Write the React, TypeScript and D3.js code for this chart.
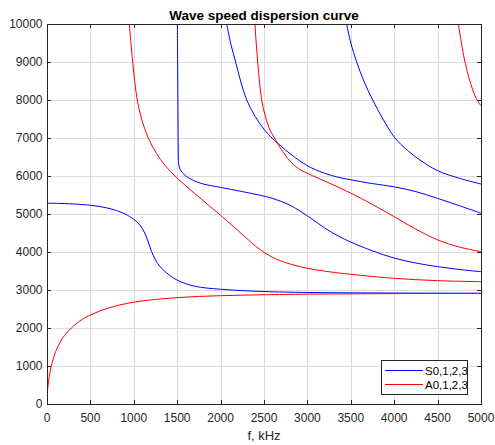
import React from "react";
import * as d3 from "d3";

const W = 495;
const H = 445;

const xTicks = [0, 500, 1000, 1500, 2000, 2500, 3000, 3500, 4000, 4500, 5000];
const yTicks = [0, 1000, 2000, 3000, 4000, 5000, 6000, 7000, 8000, 9000, 10000];

const title = "Wave speed dispersion curve";
const xLabel = "f, kHz";
const legendLabels = ["S0,1,2,3", "A0,1,2,3"];

// [frequency kHz, wave speed]
const S0: [number, number][] = [
  [0, 5285], [200, 5275], [400, 5250], [500, 5230], [600, 5200], [700, 5155],
  [800, 5090], [900, 5000], [1000, 4860], [1050, 4760], [1100, 4610],
  [1150, 4370], [1200, 4040], [1250, 3790], [1300, 3620], [1400, 3410],
  [1500, 3260], [1700, 3100], [2000, 3020], [2500, 2960], [3000, 2935],
  [4000, 2920], [5000, 2915],
];
const S1: [number, number][] = [
  [1502, 10000], [1505, 9000], [1508, 8000], [1511, 7000], [1513, 6600],
  [1516, 6350], [1522, 6250], [1535, 6170], [1560, 6090], [1600, 6000],
  [1700, 5870], [1800, 5790], [2000, 5700], [2250, 5590], [2500, 5470],
  [2600, 5410], [2700, 5330], [2800, 5230], [2900, 5100], [3000, 4950],
  [3100, 4790], [3200, 4630], [3300, 4490], [3400, 4370], [3500, 4260],
  [3750, 4030], [4000, 3840], [4250, 3710], [4500, 3615], [4750, 3540],
  [5000, 3482],
];
const S2: [number, number][] = [
  [2070, 10000], [2120, 9450], [2174, 9000], [2230, 8500], [2301, 8000],
  [2400, 7560], [2500, 7230], [2600, 6980], [2650, 6880], [2750, 6680],
  [2850, 6500], [2950, 6340], [3050, 6210], [3200, 6070], [3350, 5970],
  [3500, 5900], [3750, 5800], [4000, 5715], [4250, 5590], [4500, 5410],
  [4750, 5220], [5000, 5020],
];
const S3: [number, number][] = [
  [3452, 10000], [3500, 9500], [3568, 9000], [3650, 8500], [3752, 8000],
  [3870, 7500], [4009, 7000], [4150, 6680], [4297, 6420], [4500, 6140],
  [4750, 5940], [5000, 5789],
];
const A0: [number, number][] = [
  [0, 0], [5, 310], [10, 440], [25, 700], [50, 1000], [100, 1380],
  [150, 1620], [200, 1800], [280, 2000], [400, 2220], [500, 2340],
  [700, 2520], [1000, 2680], [1500, 2800], [2000, 2850], [2500, 2875],
  [3000, 2890], [4000, 2905], [5000, 2910],
];
const A1: [number, number][] = [
  [948, 10000], [967, 9500], [987, 9000], [1010, 8500], [1040, 8000],
  [1090, 7500], [1166, 7000], [1260, 6600], [1360, 6280], [1473, 6000],
  [1600, 5740], [1800, 5350], [2000, 4965], [2100, 4765], [2200, 4565],
  [2300, 4360], [2400, 4160], [2500, 3990], [2600, 3860], [2750, 3720],
  [3000, 3570], [3250, 3480], [3500, 3413], [4000, 3307], [4500, 3246],
  [5000, 3219],
];
const A2: [number, number][] = [
  [2396, 10000], [2410, 9500], [2427, 9000], [2447, 8500], [2473, 8000],
  [2510, 7620], [2560, 7260], [2620, 7000], [2650, 6880], [2700, 6700],
  [2800, 6390], [2900, 6190], [3000, 6070], [3250, 5815], [3500, 5550],
  [3750, 5250], [4000, 4930], [4250, 4600], [4500, 4320], [4750, 4130],
  [5000, 4009],
];
const A3: [number, number][] = [
  [4739, 10000], [4770, 9560], [4800, 9170], [4840, 8760], [4880, 8440],
  [4920, 8170], [4960, 7980], [5000, 7850],
];

const symModes = [S0, S1, S2, S3];
const antiModes = [A0, A1, A2, A3];

const BLUE = "#0000ff";
const RED = "#ff0000";
const FONT = "'Liberation Sans', Arial, Helvetica, sans-serif";

export default function App() {
  const left = 47, right = 481, top = 24, bottom = 404;
  const x = d3.scaleLinear().domain([0, 5000]).range([left, right]);
  const y = d3.scaleLinear().domain([0, 10000]).range([bottom, top]);
  const line = d3
    .line<[number, number]>()
    .x((d) => x(d[0]))
    .y((d) => y(d[1]))
    .curve(d3.curveCatmullRom.alpha(0.5));

  const gridColor = "#dcdcdc";
  const axisColor = "#262626";
  const tickLen = 4;

  const lgX = 381.5, lgY = 360.5, lgW = 86, lgH = 34;

  return (
    <svg
      width={W}
      height={H}
      style={{ position: "absolute", left: 0, top: 0, display: "block", background: "#fff" }}
    >
      <defs>
        <clipPath id="plotClip">
          <rect x={left} y={top} width={right - left} height={bottom - top} />
        </clipPath>
      </defs>
      <rect x={0} y={0} width={W} height={H} fill="#fff" />
      {/* grid */}
      {xTicks.map((t) => (
        <line key={"gx" + t} x1={Math.round(x(t)) + 0.5} x2={Math.round(x(t)) + 0.5} y1={top} y2={bottom} stroke={gridColor} strokeWidth={1} />
      ))}
      {yTicks.map((t) => (
        <line key={"gy" + t} x1={left} x2={right} y1={Math.round(y(t)) + 0.5} y2={Math.round(y(t)) + 0.5} stroke={gridColor} strokeWidth={1} />
      ))}
      {/* curves */}
      <g clipPath="url(#plotClip)" fill="none" strokeWidth={1}>
        {symModes.map((m, i) => (
          <path key={"s" + i} d={line(m) || ""} stroke={BLUE} />
        ))}
        {antiModes.map((m, i) => (
          <path key={"a" + i} d={line(m) || ""} stroke={RED} />
        ))}
      </g>
      {/* ticks */}
      {xTicks.map((t) => {
        const px = Math.round(x(t)) + 0.5;
        return (
          <g key={"tx" + t}>
            <line x1={px} x2={px} y1={bottom} y2={bottom - tickLen} stroke={axisColor} />
            <line x1={px} x2={px} y1={top} y2={top + tickLen} stroke={axisColor} />
            <text x={x(t)} y={422} textAnchor="middle" fontFamily={FONT} fontSize={12} fill="#262626">
              {t}
            </text>
          </g>
        );
      })}
      {yTicks.map((t) => {
        const py = Math.round(y(t)) + 0.5;
        return (
          <g key={"ty" + t}>
            <line x1={left} x2={left + tickLen} y1={py} y2={py} stroke={axisColor} />
            <line x1={right} x2={right - tickLen} y1={py} y2={py} stroke={axisColor} />
            <text x={42.5} y={y(t) + 4.3} textAnchor="end" fontFamily={FONT} fontSize={12} fill="#262626">
              {t}
            </text>
          </g>
        );
      })}
      {/* axes box */}
      <rect x={left + 0.5} y={top + 0.5} width={right - left} height={bottom - top} fill="none" stroke={axisColor} strokeWidth={1} />
      {/* title */}
      <text x={264} y={20} textAnchor="middle" fontFamily={FONT} fontSize={13.5} fontWeight="bold" fill="#000">
        {title}
      </text>
      {/* x label */}
      <text x={264} y={440} textAnchor="middle" fontFamily={FONT} fontSize={13} fill="#262626">
        {xLabel}
      </text>
      {/* legend */}
      <rect x={lgX} y={lgY} width={lgW} height={lgH} fill="#fff" stroke={axisColor} strokeWidth={1} />
      <line x1={385} x2={423} y1={370.5} y2={370.5} stroke={BLUE} strokeWidth={1} />
      <line x1={385} x2={423} y1={384.5} y2={384.5} stroke={RED} strokeWidth={1} />
      <text x={425} y={374.5} fontFamily={FONT} fontSize={11.5} fill="#000">{legendLabels[0]}</text>
      <text x={425} y={388.5} fontFamily={FONT} fontSize={11.5} fill="#000">{legendLabels[1]}</text>
    </svg>
  );
}
